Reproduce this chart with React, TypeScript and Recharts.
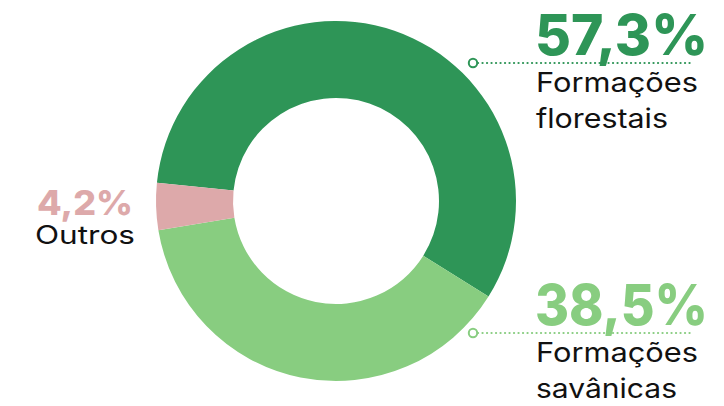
import { PieChart, Pie, Cell } from 'recharts'

const categories = ['Formações florestais', 'Formações savânicas', 'Outros']
const shares = [57.3, 38.5, 4.2]
const colors = ['#2E9557', '#88CD80', '#DDA9AA']

const data = categories.map((name, i) => ({ name, value: shares[i] }))

const fmt = (v: number) => `${v.toFixed(1).replace('.', ',')}%`

const FONT = "Inter, 'DejaVu Sans', sans-serif"

function Callout({
  value,
  lines,
  color,
  y,
}: {
  value: number
  lines: string[]
  color: string
  y: number
}) {
  return (
    <g>
      <text
        x={535}
        y={y}
        fill={color}
        fontFamily={FONT}
        fontWeight={800}
        fontSize={57}
        textLength={173}
        lengthAdjust="spacingAndGlyphs"
      >
        {fmt(value)}
      </text>
      <line
        x1={478}
        y1={y + 8}
        x2={693}
        y2={y + 8}
        stroke={color}
        strokeWidth={2.2}
        strokeDasharray="0.1 4.4"
        strokeLinecap="round"
      />
      <circle cx={473} cy={y + 8} r={4.2} fill="#fff" stroke={color} strokeWidth={2} />
      {lines.map((t, i) => (
        <text
          key={t}
          x={536}
          y={y + 37 + i * 36}
          fill="#111"
          fontFamily={FONT}
          fontWeight={400}
          fontSize={27}
          textLength={i === 0 ? 162 : t === 'florestais' ? 132 : 141}
          lengthAdjust="spacingAndGlyphs"
        >
          {t}
        </text>
      ))}
    </g>
  )
}

export default function App() {
  return (
    <div style={{ position: 'fixed', left: 0, top: 0, width: 724, height: 406, background: '#fff' }}>
      <PieChart width={724} height={406} margin={{ top: 0, right: 0, bottom: 0, left: 0 }}>
        <Pie
          data={data}
          dataKey="value"
          nameKey="name"
          cx={336}
          cy={201}
          innerRadius={103}
          outerRadius={180}
          startAngle={174.2}
          endAngle={-185.8}
          stroke="none"
          isAnimationActive={false}
        >
          {data.map((d, i) => (
            <Cell key={d.name} fill={colors[i]} />
          ))}
        </Pie>
      </PieChart>
      <svg width={724} height={406} style={{ position: 'absolute', left: 0, top: 0, pointerEvents: 'none' }}>
        <Callout value={shares[0]} lines={['Formações', 'florestais']} color={colors[0]} y={55} />
        <Callout value={shares[1]} lines={['Formações', 'savânicas']} color={colors[1]} y={325} />
        <text
          x={37}
          y={215}
          fill={colors[2]}
          fontFamily={FONT}
          fontWeight={800}
          fontSize={34}
          textLength={96}
          lengthAdjust="spacingAndGlyphs"
        >
          {fmt(shares[2])}
        </text>
        <text
          x={35}
          y={244}
          fill="#111"
          fontFamily={FONT}
          fontWeight={400}
          fontSize={25}
          textLength={100}
          lengthAdjust="spacingAndGlyphs"
        >
          {categories[2]}
        </text>
      </svg>
    </div>
  )
}
